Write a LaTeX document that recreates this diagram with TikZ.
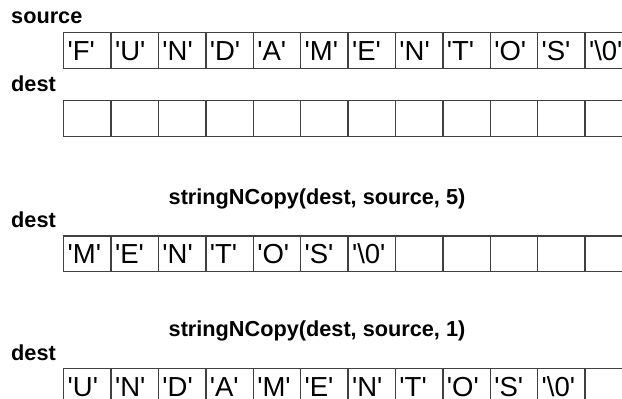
\documentclass[tikz,border=0pt]{standalone}
\usepackage{fontspec}
\setmainfont{Liberation Sans}
% a character literal with straight single quotes
\newcommand\chq[1]{\textquotesingle#1\textquotesingle}
\tikzset{
  cell/.style={draw=black!75, line width=1.3pt, anchor=north west,
    inner xsep=4pt, inner ysep=0pt, text width=39.4pt, align=left,
    text height=28pt, text depth=7.5pt,
    font=\fontsize{27.5}{30}\selectfont},
  lbl/.style={anchor=base west, inner sep=0pt,
    font=\fontsize{21.7}{24}\selectfont\bfseries},
}
\begin{document}
\begin{tikzpicture}[x=1pt,y=-1pt]
\useasboundingbox (0,0) rectangle (622,399);
\fill[white] (0,0) rectangle (622,399);
\clip (0,0) rectangle (622,399);
\def\cw{47.4}

% source array
\node[lbl] (srclbl) at (11,23.3) {source};
\foreach \t [count=\i from 0] in {F,U,N,D,A,M,E,N,T,O,S,\textbackslash 0}
  \node[cell] (src\i) at (63+\i*\cw,32) {\chq{\t}};

% empty destination array
\node[lbl] (dstlbl) at (11,91.5) {dest};
\foreach \i in {0,...,11}
  \node[cell] (dst\i) at (63+\i*\cw,100) {};

% after copying from index 5
\node[lbl] (callfive) at (168.5,204) {stringNCopy(dest, source, 5)};
\node[lbl] (dstfivelbl) at (11,227.5) {dest};
\foreach \t [count=\i from 0] in {M,E,N,T,O,S,\textbackslash 0}
  \node[cell] (five\i) at (63+\i*\cw,235.3) {\chq{\t}};
\foreach \i in {7,...,11}
  \node[cell] (five\i) at (63+\i*\cw,235.3) {};

% after copying from index 1
\node[lbl] (callone) at (168.5,336.7) {stringNCopy(dest, source, 1)};
\node[lbl] (dstonelbl) at (11,360.2) {dest};
\foreach \t [count=\i from 0] in {U,N,D,A,M,E,N,T,O,S,\textbackslash 0}
  \node[cell] (one\i) at (63+\i*\cw,368) {\chq{\t}};
\node[cell] (one11) at (63+11*\cw,368) {};
\end{tikzpicture}
\end{document}
